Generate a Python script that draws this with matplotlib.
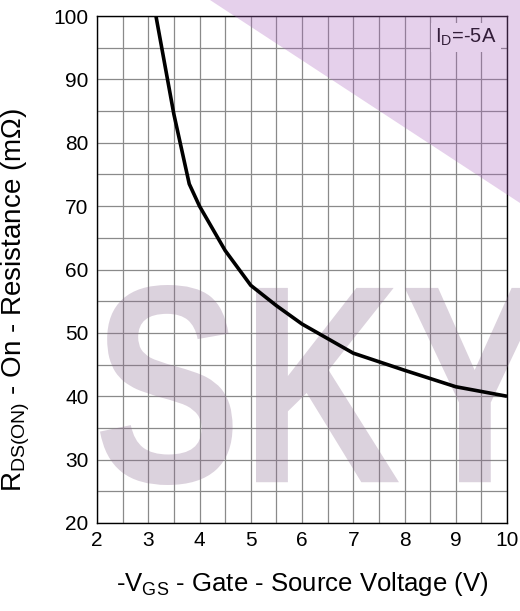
import numpy as np
import matplotlib
matplotlib.use("Agg")
import matplotlib.pyplot as plt
from matplotlib.patches import Polygon, PathPatch
from matplotlib.path import Path
from matplotlib.textpath import TextPath
from matplotlib.font_manager import FontProperties

plt.rcParams['font.family'] = ['Liberation Sans', 'DejaVu Sans']
plt.rcParams['mathtext.fontset'] = 'custom'
plt.rcParams['mathtext.rm'] = 'Liberation Sans'
plt.rcParams['mathtext.it'] = 'Liberation Sans'

# RDS(ON) vs -VGS at ID = -5A
vgs = [3.15, 3.5, 3.8, 4.0, 4.5, 5.0, 5.5, 6.0, 7.0, 8.0, 9.0, 10.0]
rds = [100.0, 84.5, 73.5, 70.0, 63.0, 57.5, 54.3, 51.4, 46.8, 44.1, 41.5, 40.0]

x_ticks = [2, 3, 4, 5, 6, 7, 8, 9, 10]
y_ticks = [20, 30, 40, 50, 60, 70, 80, 90, 100]

W, H = 520, 611
fig = plt.figure(figsize=(W / 100, H / 100), dpi=100)
ax = fig.add_axes([97 / W, 1 - 523 / H, 410 / W, 507 / H])

ax.plot(vgs, rds, color='black', linewidth=2.6, zorder=4, solid_capstyle='butt')

ax.set_xlim(2, 10)
ax.set_ylim(20, 100)
ax.set_xticks(x_ticks)
ax.set_yticks(y_ticks)
ax.set_xticks(np.arange(2, 10.01, 0.5), minor=True)
ax.set_yticks(np.arange(20, 100.01, 5), minor=True)
ax.tick_params(which='both', length=0, labelsize=15)
ax.tick_params(axis='x', pad=6)
ax.tick_params(axis='y', pad=6)
ax.grid(which='both', color='#8a8a8a', linewidth=0.9)
ax.set_axisbelow(True)
for s in ax.spines.values():
    s.set_color('black')
    s.set_linewidth(1.0)

ax.set_xlabel(r'-V$_{\mathrm{GS}}$ - Gate - Source Voltage (V)', fontsize=18.5)
ax.set_ylabel(r'R$_{\mathrm{DS(ON)}}$ - On - Resistance (m$\Omega$)', fontsize=20)
ax.xaxis.set_label_coords(0.5, -0.093)
ax.yaxis.set_label_coords(-0.158, 0.44)

ax.text(9.8, 96.6, r'I$_{\mathrm{D}}$=-5A', fontsize=14.5, ha='right', va='center', zorder=2,
        bbox=dict(facecolor='white', edgecolor='none', pad=3))

# watermark: purple corner triangle
tri = Polygon([[210 / W, 1.0], [1.0, 1.0], [1.0, 1 - 203 / H]], closed=True,
              transform=fig.transFigure, facecolor='#aa64be', edgecolor='none',
              alpha=0.3, zorder=3, clip_on=False)
ax.add_patch(tri)

# watermark: big letters
tp = TextPath((0, 0), 'SKY', prop=FontProperties(family='Liberation Sans', weight='bold'))
ext = tp.get_extents()
x0, x1 = 100 / W, 545 / W
y0, y1 = 1 - 485 / H, 1 - 285 / H
verts = tp.vertices.copy()
verts[:, 0] = x0 + (verts[:, 0] - ext.x0) / ext.width * (x1 - x0)
verts[:, 1] = y0 + (verts[:, 1] - ext.y0) / ext.height * (y1 - y0)
letters = PathPatch(Path(verts, tp.codes), transform=fig.transFigure,
                    facecolor='#8a6a8f', edgecolor='none', alpha=0.3, zorder=3, clip_on=False)
ax.add_patch(letters)

fig.savefig('out.png', dpi=100)
